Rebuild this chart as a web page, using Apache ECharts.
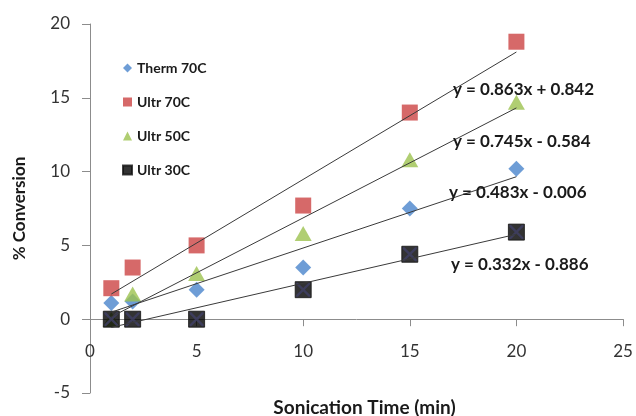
<!DOCTYPE html>
<html>
<head>
<meta charset="utf-8">
<script src="https://cdn.jsdelivr.net/npm/echarts@6/dist/echarts.min.js"></script>
<style>
  html, body { margin: 0; padding: 0; background: #fff; }
  #chart { width: 636px; height: 416px; }
</style>
</head>
<body>
<div id="chart"></div>
<script>
// sonication time (min)
const times = [1, 2, 5, 10, 15, 20];

// % conversion
const therm70 = [1.1, 1.2, 2.0, 3.5, 7.5, 10.2];
const ultr70 = [2.1, 3.5, 5.0, 7.7, 14.0, 18.8];
const ultr50 = [0.0, 1.7, 3.1, 5.8, 10.8, 14.7];
const ultr30 = [0.0, 0.0, 0.0, 2.0, 4.4, 5.9];

const seriesNames = ['Therm 70C', 'Ultr 70C', 'Ultr 50C', 'Ultr 30C'];

// linear fits printed on the chart (same order as seriesNames)
const slopes = [0.483, 0.863, 0.745, 0.332];
const intercepts = [-0.006, 0.842, -0.584, -0.886];
const fitRange = [1, 20];

const font = 'Lato, "Liberation Sans", sans-serif';

const chart = echarts.init(document.getElementById('chart'));

const pairs = (ys) => times.map((t, i) => [t, ys[i]]);

const fitLine = (i) => ({
    type: 'line',
    data: fitRange.map(x => [x, slopes[i] * x + intercepts[i]]),
    symbol: 'none',
    silent: true,
    z: 5,
    lineStyle: { color: '#3a3a3a', width: 1 }
});

const eqText = (i) => {
    const b = intercepts[i];
    const sign = b < 0 ? ' - ' : ' + ';
    return 'y = ' + slopes[i].toFixed(3) + 'x' + sign + Math.abs(b).toFixed(3);
};

// where each equation sits (left edge, vertical middle)
const eqPos = [[449, 193], [453, 90], [453, 142], [451, 265]];

const xMark = 'path://M0,0L1.2,0L10,8.8L10,10L8.8,10L0,1.2Z M10,0L10,1.2L1.2,10L0,10L0,8.8L8.8,0Z';

chart.setOption({
    animation: false,
    backgroundColor: '#fff',
    grid: {
        left: 90, top: 24, width: 533, height: 369,
        containLabel: false,
        outerBounds: { left: -300, top: -300, right: -300, bottom: -300 }
    },
    legend: {
        data: seriesNames,
        orient: 'vertical',
        left: 117,
        top: 56,
        itemWidth: 9,
        itemHeight: 9,
        itemGap: 20,
        textStyle: { fontFamily: font, fontSize: 14, fontWeight: 'bold', color: '#1a1a1a' }
    },
    xAxis: {
        type: 'value',
        min: 0,
        max: 25,
        interval: 5,
        name: 'Sonication Time (min)',
        nameLocation: 'middle',
        nameGap: 5,
        nameTextStyle: { fontFamily: font, fontSize: 19, fontWeight: 'bold', color: '#1a1a1a', padding: [0, 0, 0, 16] },
        axisLine: { onZero: true, lineStyle: { color: '#8c8c8c' } },
        axisTick: { length: 7, lineStyle: { color: '#8c8c8c' } },
        // labels sit at the low edge of the grid, so pull them up
        axisLabel: { margin: -50, fontFamily: font, fontSize: 17, color: '#333' },
        splitLine: { show: false }
    },
    yAxis: {
        type: 'value',
        min: -5,
        max: 20,
        interval: 5,
        name: '% Conversion',
        nameLocation: 'middle',
        nameGap: 62,
        nameTextStyle: { fontFamily: font, fontSize: 17, fontWeight: 'bold', color: '#1a1a1a' },
        axisLine: { show: true, lineStyle: { color: '#8c8c8c' } },
        axisTick: { show: true, length: 8, lineStyle: { color: '#8c8c8c' } },
        axisLabel: { margin: 20, fontFamily: font, fontSize: 17, color: '#333' },
        splitLine: { show: false }
    },
    series: [
        {
            name: seriesNames[0], type: 'scatter', data: pairs(therm70),
            symbol: 'diamond', symbolSize: 16, itemStyle: { color: '#4a84cc' }
        },
        {
            name: seriesNames[1], type: 'scatter', data: pairs(ultr70),
            symbol: 'rect', symbolSize: 16, itemStyle: { color: '#cc4343' }
        },
        {
            name: seriesNames[2], type: 'scatter', data: pairs(ultr50),
            symbol: 'triangle', symbolSize: [17, 15], itemStyle: { color: '#9cc24f' }
        },
        {
            name: seriesNames[3], type: 'scatter', data: pairs(ultr30),
            symbol: 'rect', symbolSize: 16, itemStyle: { color: '#000', borderColor: '#111', borderWidth: 1 }
        },
        {
            // the cross drawn inside the black squares
            name: 'x', type: 'scatter', data: pairs(ultr30), silent: true,
            symbol: xMark, symbolSize: 14, itemStyle: { color: '#404066' }, z: 3
        },
        fitLine(0), fitLine(1), fitLine(2), fitLine(3)
    ],
    graphic: eqPos.map((p, i) => ({
        type: 'text',
        x: p[0],
        y: p[1],
        z: 10,
        style: {
            text: eqText(i),
            fill: '#1a1a1a',
            font: 'bold 17px ' + font,
            verticalAlign: 'middle'
        }
    }))
});
</script>
</body>
</html>
